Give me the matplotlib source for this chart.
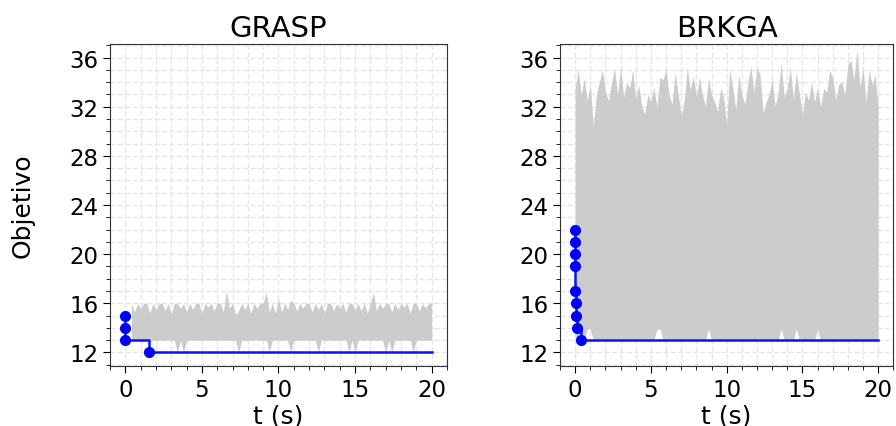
import numpy as np
import matplotlib
matplotlib.use("Agg")
import matplotlib.pyplot as plt
from matplotlib.ticker import MultipleLocator

# sample times of the population band (s)
grasp_t = np.round(np.arange(0.4, 20.01, 0.2), 1)
brkga_t = np.round(np.arange(0.0, 20.01, 0.2), 1)

# GRASP: band of objective values per iteration (upper / lower envelope)
grasp_hi = [16, 15.3, 16, 15.6, 16, 16, 15.2, 16, 15.5, 16,
            16, 15.4, 16, 15.1, 16, 16, 15.6, 16, 15.3, 16,
            15.5, 16, 16, 15.2, 16, 15.7, 16, 15.4, 16, 16,
            15.3, 17.0, 15.6, 16, 15.1, 15.4, 16, 15.5, 16, 15.2,
            16, 15.6, 16, 16, 16.9, 15.3, 16, 15.2, 16.4, 15.3,
            16, 15.5, 16.3, 16, 15.4, 16, 15.6, 16, 16, 15.3,
            16, 15.5, 16, 15.2, 16, 16, 15.4, 16, 15.6, 16,
            15.3, 16, 16, 15.5, 16, 15.4, 16, 15.2, 16, 16.9,
            15.4, 16, 15.6, 16, 16, 15.3, 16, 15.5, 16, 15.7,
            16, 15.2, 16, 16, 15.4, 16, 15.6, 16, 16]
grasp_lo = [13, 13, 13, 13, 13, 13, 13, 13, 13, 13,
            13, 13, 13, 13, 13, 12, 13, 12, 13, 13,
            13, 13, 13, 13, 13, 13, 13, 13, 13, 13,
            13, 13, 13, 13, 13, 12, 13, 13, 13, 13,
            13, 13, 13, 13, 13, 12, 13, 13, 13, 13,
            13, 13, 12, 13, 13, 13, 13, 13, 13, 13,
            13, 12, 13, 13, 13, 13, 13, 13, 13, 13,
            13, 12, 13, 12, 13, 13, 13, 13, 13, 13,
            13, 13, 13, 12, 13, 12, 13, 13, 13, 13,
            13, 13, 12, 13, 13, 13, 13, 13, 13]

# BRKGA: population band
brkga_hi = [33.5, 35.0, 33.0, 34.3, 32.5, 33.8, 30.4, 33.0, 34.0, 35.0, 33.2,
            32.5, 33.9, 35.1, 33.0, 35.3, 32.8, 34.0, 33.5, 35.0, 32.6,
            33.8, 32.0, 31.4, 33.0, 32.4, 33.6, 32.0, 34.4, 34.2, 35.0,
            33.0, 32.2, 34.8, 33.0, 31.3, 32.5, 35.2, 33.4, 34.5, 32.8,
            34.4, 33.0, 32.0, 34.3, 33.0, 32.4, 31.6, 33.5, 32.8, 30.5,
            35.0, 33.6, 31.8, 34.6, 33.0, 32.2, 34.0, 35.3, 33.2, 35.2,
            34.6, 31.5, 32.4, 33.0, 34.3, 32.0, 33.2, 35.6, 32.8, 33.5,
            35.2, 32.6, 34.8, 33.0, 31.4, 33.2, 32.5, 34.0, 32.4, 33.6,
            32.0, 33.5, 33.2, 35.0, 34.3, 32.6, 33.8, 34.0, 33.0, 35.4,
            35.8, 34.2, 36.7, 33.6, 35.2, 32.4, 35.0, 33.8, 34.6, 32.0]
brkga_lo = [13, 13, 13, 13, 13.9, 13.9, 13, 13, 13, 13, 13,
            13, 13, 13, 13, 13, 13, 13, 13, 13, 13,
            13, 13, 13, 13, 13, 13, 13.9, 13.9, 13, 13,
            13, 13, 13, 13, 13, 13, 13, 13, 13, 13,
            13, 13, 13, 13.9, 13, 13, 13, 13, 13, 13,
            13, 13, 13, 13, 13, 13, 13, 13, 13, 13,
            13, 13, 13, 13, 13, 13, 13, 13.9, 13, 13,
            13, 13, 13.9, 13, 13, 13, 13, 13, 13, 13.9,
            13, 13, 13, 13, 13, 13, 13, 13, 13, 13,
            13, 13, 13, 13, 13, 13, 13, 13, 13, 13]

# best-so-far improvements (time, objective)
grasp_best_t = [0.0, 0.0, 0.0, 1.53]
grasp_best = [15, 14, 13, 12]
brkga_best_t = [0.0, 0.0, 0.0, 0.0, 0.0, 0.04, 0.08, 0.12, 0.37]
brkga_best = [22, 21, 20, 19, 17, 16, 15, 14, 13]
t_end = 20

fig = plt.figure(figsize=(8.96, 4.27), dpi=100)
ax1 = fig.add_axes([0.1228, 0.1405, 0.376, 0.754])
ax2 = fig.add_axes([0.625, 0.1405, 0.372, 0.754])

panels = [
    (ax1, "GRASP", grasp_t, grasp_lo, grasp_hi, grasp_best_t, grasp_best),
    (ax2, "BRKGA", brkga_t, brkga_lo, brkga_hi, brkga_best_t, brkga_best),
]

for ax, title, t, lo, hi, bt, bv in panels:
    ax.fill_between(t, lo, hi, color="#cccccc", linewidth=0, zorder=2)
    ax.plot(list(bt) + [t_end], list(bv) + [bv[-1]], color="#1010ee",
            drawstyle="steps-post", linewidth=1.8, zorder=3)
    ax.plot(bt, bv, "o", color="#0000ff", markersize=7, zorder=4)
    ax.set_title(title, fontsize=21)
    ax.set_xlabel("t (s)", fontsize=18, labelpad=2)
    ax.set_xlim(-1, 21)
    ax.set_ylim(10.9, 37.1)
    ax.xaxis.set_major_locator(MultipleLocator(5))
    ax.xaxis.set_minor_locator(MultipleLocator(1))
    ax.yaxis.set_major_locator(MultipleLocator(4))
    ax.yaxis.set_minor_locator(MultipleLocator(1))
    ax.grid(which="both", color="#e6e6e6", linestyle="--", linewidth=1.0, zorder=0)
    ax.set_axisbelow(True)
    ax.tick_params(labelsize=16.5)
    ax.tick_params(which="major", length=5)
    ax.tick_params(which="minor", length=3)
    for s in ax.spines.values():
        s.set_color("#333333")

ax1.set_ylabel("Objetivo", fontsize=18, labelpad=25)

fig.savefig("out.png", dpi=100)
